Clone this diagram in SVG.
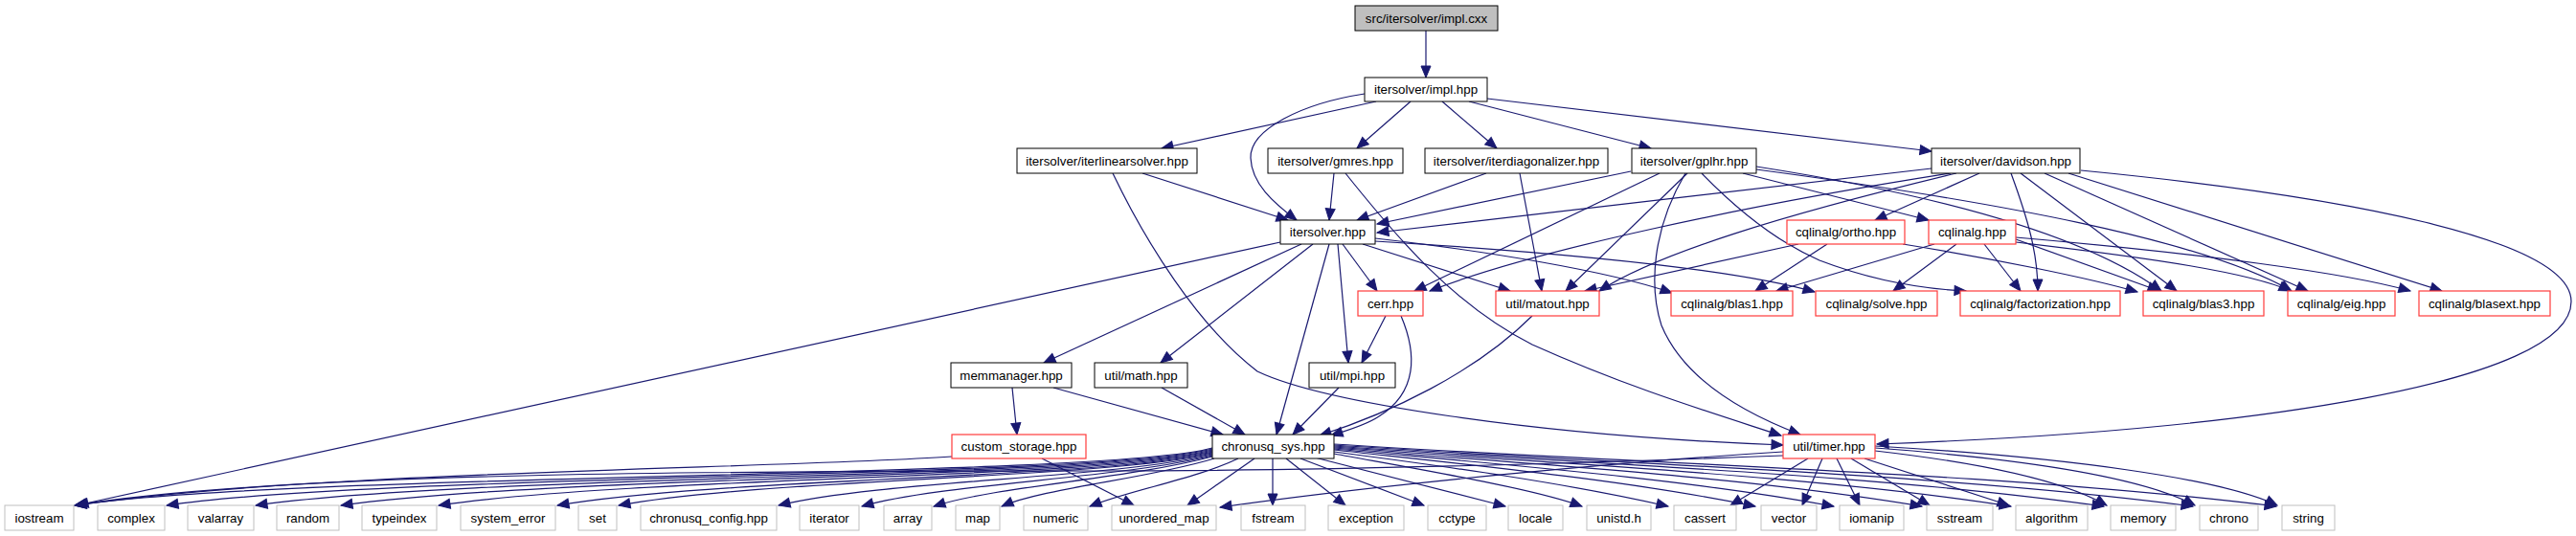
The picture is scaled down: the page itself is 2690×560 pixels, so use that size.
<svg xmlns="http://www.w3.org/2000/svg" width="2690" height="560" viewBox="0 0 2690 560">
<style>
.n rect{fill:#fff;stroke:#000;stroke-width:1}
.r rect{fill:#fff;stroke:#ff3b3b;stroke-width:1.2}
.g rect{fill:#fff;stroke:#bfbfbf;stroke-width:1}
.root rect{fill:#bfbfbf;stroke:#000;stroke-width:1}
text{font-family:"Liberation Sans",Arial,Helvetica,sans-serif;font-size:13.33px;text-anchor:middle;fill:#000}
#edges path{fill:none;stroke:#191970;stroke-width:1.2;marker-end:url(#a)}
</style>
<defs>
<marker id="a" markerUnits="userSpaceOnUse" markerWidth="14" markerHeight="12" refX="12" refY="5" orient="auto" overflow="visible">
<path d="M0,0 L12,5 L0,10 z" fill="#191970" stroke="#191970" stroke-width="1"/>
</marker>
</defs>
<rect width="2690" height="560" fill="#fff"/>
<g id="edges">
<path d="M1489,32 L1489,81"/>
<path d="M1437,106 L1213,155"/>
<path d="M1473,106 L1417,155"/>
<path d="M1506,106 L1563,155"/>
<path d="M1534,106 L1724,155"/>
<path d="M1553,103 L2017,158"/>
<path d="M1425,98 C1360,108 1305,135 1306,165 C1307,192 1330,212 1354,230"/>
<path d="M1193,181 L1345,230"/>
<path d="M1162,181 C1195,250 1250,340 1313,388 C1380,420 1600,455 1862,465"/>
<path d="M1393,181 L1388,230"/>
<path d="M1405,181 C1460,250 1520,320 1600,360 C1700,405 1790,432 1860,455"/>
<path d="M1552,181 L1417,230"/>
<path d="M1587,181 L1610,304"/>
<path d="M1703,179 L1438,234"/>
<path d="M1733,181 L1477,304"/>
<path d="M1762,181 L1635,304"/>
<path d="M1760,181 C1725,240 1722,300 1735,340 C1760,400 1830,435 1880,454"/>
<path d="M1777,181 C1810,215 1850,250 1900,272 C1960,295 2010,302 2053,304"/>
<path d="M1820,181 L2014,230"/>
<path d="M1834,174 C2000,200 2170,240 2257,304"/>
<path d="M1834,177 C2080,210 2300,250 2393,304"/>
<path d="M2017,176 L1438,243"/>
<path d="M2037,181 C1820,215 1600,262 1493,304"/>
<path d="M2043,181 C1860,225 1730,265 1670,304"/>
<path d="M2067,181 L1958,230"/>
<path d="M2100,181 C2118,230 2128,265 2128,304"/>
<path d="M2110,181 L2273,304"/>
<path d="M2135,181 L2410,304"/>
<path d="M2160,181 L2550,304"/>
<path d="M2173,178 C2450,205 2685,250 2685,315 C2685,400 2350,450 1960,464"/>
<path d="M1337,253 L80,528"/>
<path d="M1359,255 L1090,379"/>
<path d="M1371,255 L1212,379"/>
<path d="M1388,255 L1333,454"/>
<path d="M1397,255 L1408,379"/>
<path d="M1402,255 L1438,304"/>
<path d="M1423,255 L1577,304"/>
<path d="M1436,249 C1550,262 1680,283 1746,306"/>
<path d="M1436,252 C1600,262 1800,278 1895,305"/>
<path d="M1878,255 L1655,304"/>
<path d="M1908,255 L1833,304"/>
<path d="M1987,255 C2080,270 2180,290 2232,305"/>
<path d="M2020,255 L1855,304"/>
<path d="M2043,255 L1977,304"/>
<path d="M2072,255 L2110,304"/>
<path d="M2105,250 L2255,304"/>
<path d="M2105,253 C2250,270 2350,285 2392,304"/>
<path d="M2105,248 C2300,265 2450,285 2517,304"/>
<path d="M1447,330 L1422,379"/>
<path d="M1463,330 C1480,370 1480,410 1440,435 C1425,445 1405,450 1390,455"/>
<path d="M1600,330 C1540,390 1450,432 1378,455"/>
<path d="M1398,405 L1350,454"/>
<path d="M1213,405 L1300,454"/>
<path d="M1100,405 L1277,454"/>
<path d="M1057,405 L1062,454"/>
<path d="M1088,479 L1184,528"/>
<path d="M994,477 C800,490 330,492 78,528"/>
<path d="M1888,479 L1807,528"/>
<path d="M1903,479 L1882,528"/>
<path d="M1918,479 L1942,528"/>
<path d="M1933,479 L2015,528"/>
<path d="M1947,479 L2098,528"/>
<path d="M1958,471 C2080,485 2160,505 2200,528"/>
<path d="M1958,468 C2120,480 2240,500 2292,528"/>
<path d="M1958,466 C2160,478 2320,500 2378,528"/>
<path d="M1862,472 C1700,482 1450,505 1274,530"/>
<path d="M1862,476 C1650,484 1400,492 1150,492 C800,492 300,492 78,528"/>
<path d="M1266,468 C1150,500 298,494 78,528"/>
<path d="M1266,469 C1150,500 394,495 174,528"/>
<path d="M1266,470 C1150,500 487,496 267,528"/>
<path d="M1266,471 C1150,500 576,497 356,528"/>
<path d="M1266,472 C1150,500 660,498 458,528"/>
<path d="M1266,473 C1150,500 752,499 582,528"/>
<path d="M1266,474 C1150,500 800,500 646,528"/>
<path d="M1266,475 C1160,500 920,502 813,528"/>
<path d="M1266,476 C1170,500 985,505 900,529"/>
<path d="M1266,477 C1180,500 1040,508 975,529"/>
<path d="M1268,479 C1200,500 1090,510 1046,529"/>
<path d="M1293,479 C1250,500 1180,512 1138,529"/>
<path d="M1310,479 L1240,528"/>
<path d="M1329,479 L1329,528"/>
<path d="M1343,479 L1405,528"/>
<path d="M1358,479 L1487,528"/>
<path d="M1373,478 L1572,529"/>
<path d="M1393,474 C1480,490 1600,510 1652,529"/>
<path d="M1393,472 C1515,488 1637,505 1742,529"/>
<path d="M1393,470 C1547,487 1701,502 1833,529"/>
<path d="M1393,469 C1576,486 1758,500 1915,529"/>
<path d="M1393,468 C1608,486 1823,498 2007,529"/>
<path d="M1393,467 C1640,486 1888,496 2100,529"/>
<path d="M1393,466 C1674,486 1956,495 2197,529"/>
<path d="M1393,465 C1707,486 2021,494 2290,529"/>
<path d="M1393,464 C1737,486 2082,493 2377,529"/>
</g>
<g id="n0" class="root"><rect x="1415" y="6" width="149" height="26"/><text x="1489.5" y="23.5">src/itersolver/impl.cxx</text></g>
<g id="n1" class="n"><rect x="1425" y="81" width="128" height="25"/><text x="1489" y="98">itersolver/impl.hpp</text></g>
<g id="n2" class="n"><rect x="1062" y="155" width="188" height="26"/><text x="1156" y="172.5">itersolver/iterlinearsolver.hpp</text></g>
<g id="n3" class="n"><rect x="1324" y="155" width="141" height="26"/><text x="1394.5" y="172.5">itersolver/gmres.hpp</text></g>
<g id="n4" class="n"><rect x="1488" y="155" width="191" height="26"/><text x="1583.5" y="172.5">itersolver/iterdiagonalizer.hpp</text></g>
<g id="n5" class="n"><rect x="1704" y="155" width="130" height="26"/><text x="1769" y="172.5">itersolver/gplhr.hpp</text></g>
<g id="n6" class="n"><rect x="2017" y="155" width="155" height="26"/><text x="2094.5" y="172.5">itersolver/davidson.hpp</text></g>
<g id="n7" class="n"><rect x="1337" y="230" width="99" height="25"/><text x="1386.5" y="247">itersolver.hpp</text></g>
<g id="n8" class="r"><rect x="1866" y="230" width="123" height="25"/><text x="1927.5" y="247">cqlinalg/ortho.hpp</text></g>
<g id="n9" class="r"><rect x="2014" y="230" width="91" height="25"/><text x="2059.5" y="247">cqlinalg.hpp</text></g>
<g id="n10" class="r"><rect x="1418" y="304" width="68" height="26"/><text x="1452" y="321.5">cerr.hpp</text></g>
<g id="n11" class="r"><rect x="1562" y="304" width="108" height="26"/><text x="1616" y="321.5">util/matout.hpp</text></g>
<g id="n12" class="r"><rect x="1745" y="304" width="127" height="26"/><text x="1808.5" y="321.5">cqlinalg/blas1.hpp</text></g>
<g id="n13" class="r"><rect x="1896" y="304" width="127" height="26"/><text x="1959.5" y="321.5">cqlinalg/solve.hpp</text></g>
<g id="n14" class="r"><rect x="2047" y="304" width="167" height="26"/><text x="2130.5" y="321.5">cqlinalg/factorization.hpp</text></g>
<g id="n15" class="r"><rect x="2238" y="304" width="126" height="26"/><text x="2301" y="321.5">cqlinalg/blas3.hpp</text></g>
<g id="n16" class="r"><rect x="2389" y="304" width="112" height="26"/><text x="2445" y="321.5">cqlinalg/eig.hpp</text></g>
<g id="n17" class="r"><rect x="2526" y="304" width="137" height="26"/><text x="2594.5" y="321.5">cqlinalg/blasext.hpp</text></g>
<g id="n18" class="n"><rect x="993" y="379" width="126" height="26"/><text x="1056" y="396.5">memmanager.hpp</text></g>
<g id="n19" class="n"><rect x="1143" y="379" width="97" height="26"/><text x="1191.5" y="396.5">util/math.hpp</text></g>
<g id="n20" class="n"><rect x="1367" y="379" width="90" height="26"/><text x="1412" y="396.5">util/mpi.hpp</text></g>
<g id="n21" class="r"><rect x="994" y="454" width="140" height="25"/><text x="1064" y="471">custom_storage.hpp</text></g>
<g id="n22" class="n"><rect x="1266" y="454" width="127" height="25"/><text x="1329.5" y="471">chronusq_sys.hpp</text></g>
<g id="n23" class="r"><rect x="1862" y="454" width="96" height="25"/><text x="1910" y="471">util/timer.hpp</text></g>
<g id="n24" class="g"><rect x="5" y="528" width="72" height="26"/><text x="41" y="545.5">iostream</text></g>
<g id="n25" class="g"><rect x="102" y="528" width="70" height="26"/><text x="137" y="545.5">complex</text></g>
<g id="n26" class="g"><rect x="196" y="528" width="69" height="26"/><text x="230.5" y="545.5">valarray</text></g>
<g id="n27" class="g"><rect x="289" y="528" width="65" height="26"/><text x="321.5" y="545.5">random</text></g>
<g id="n28" class="g"><rect x="378" y="528" width="78" height="26"/><text x="417" y="545.5">typeindex</text></g>
<g id="n29" class="g"><rect x="481" y="528" width="99" height="26"/><text x="530.5" y="545.5">system_error</text></g>
<g id="n30" class="g"><rect x="604" y="528" width="40" height="26"/><text x="624" y="545.5">set</text></g>
<g id="n31" class="g"><rect x="669" y="528" width="142" height="26"/><text x="740" y="545.5">chronusq_config.hpp</text></g>
<g id="n32" class="g"><rect x="835" y="528" width="62" height="26"/><text x="866" y="545.5">iterator</text></g>
<g id="n33" class="g"><rect x="923" y="528" width="50" height="26"/><text x="948" y="545.5">array</text></g>
<g id="n34" class="g"><rect x="998" y="528" width="46" height="26"/><text x="1021" y="545.5">map</text></g>
<g id="n35" class="g"><rect x="1069" y="528" width="67" height="26"/><text x="1102.5" y="545.5">numeric</text></g>
<g id="n36" class="g"><rect x="1161" y="528" width="109" height="26"/><text x="1215.5" y="545.5">unordered_map</text></g>
<g id="n37" class="g"><rect x="1296" y="528" width="67" height="26"/><text x="1329.5" y="545.5">fstream</text></g>
<g id="n38" class="g"><rect x="1387" y="528" width="79" height="26"/><text x="1426.5" y="545.5">exception</text></g>
<g id="n39" class="g"><rect x="1491" y="528" width="61" height="26"/><text x="1521.5" y="545.5">cctype</text></g>
<g id="n40" class="g"><rect x="1575" y="528" width="57" height="26"/><text x="1603.5" y="545.5">locale</text></g>
<g id="n41" class="g"><rect x="1657" y="528" width="67" height="26"/><text x="1690.5" y="545.5">unistd.h</text></g>
<g id="n42" class="g"><rect x="1748" y="528" width="65" height="26"/><text x="1780.5" y="545.5">cassert</text></g>
<g id="n43" class="g"><rect x="1839" y="528" width="58" height="26"/><text x="1868" y="545.5">vector</text></g>
<g id="n44" class="g"><rect x="1921" y="528" width="67" height="26"/><text x="1954.5" y="545.5">iomanip</text></g>
<g id="n45" class="g"><rect x="2012" y="528" width="69" height="26"/><text x="2046.5" y="545.5">sstream</text></g>
<g id="n46" class="g"><rect x="2105" y="528" width="75" height="26"/><text x="2142.5" y="545.5">algorithm</text></g>
<g id="n47" class="g"><rect x="2204" y="528" width="68" height="26"/><text x="2238" y="545.5">memory</text></g>
<g id="n48" class="g"><rect x="2297" y="528" width="61" height="26"/><text x="2327.5" y="545.5">chrono</text></g>
<g id="n49" class="g"><rect x="2383" y="528" width="55" height="26"/><text x="2410.5" y="545.5">string</text></g>
</svg>
